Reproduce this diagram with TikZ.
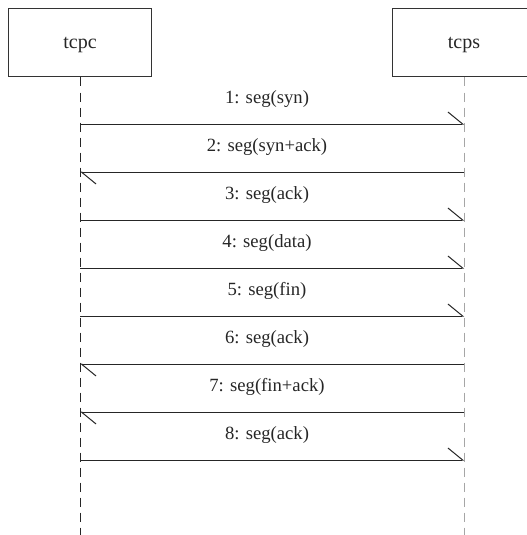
\documentclass[tikz,border=0pt]{standalone}
\usepackage{fontspec}
\setmainfont{Liberation Serif}
\usetikzlibrary{arrows.meta}

\begin{document}
\begin{tikzpicture}[x=0.75pt,y=-0.75pt,line width=0.75pt,
  every node/.style={font=\fontsize{14}{17}\selectfont,text=black!85},
  obj/.style={draw=black!80,minimum width=107pt,minimum height=51pt,inner sep=0pt,
    text depth=0pt,font=\fontsize{15}{18}\selectfont},
  life/.style={dash pattern=on 6.75pt off 4.5pt},
  msg/.style={draw=black!85,-{Straight Barb[left,length=11pt,width=18pt]}}]
  \useasboundingbox (0,0) rectangle (527,535);
  % the two objects and their lifelines
  \node[obj] (tcpc) at (80,43) {tcpc};
  \node[obj] (tcps) at (464,43) {tcps};
  \coordinate (cend) at (80,535); \coordinate (send) at (464,535);
  \draw[life,black!85] (tcpc.south) -- (cend);
  \draw[life,black!35] (tcps.south) -- (send);
  % messages, one every 48px
  \foreach \i/\lbl/\a/\b in {1/syn/c/s,2/syn+ack/s/c,3/ack/c/s,4/data/c/s,
      5/fin/c/s,6/ack/s/c,7/fin+ack/s/c,8/ack/c/s}{
    \pgfmathsetmacro{\y}{124+48*(\i-1)}
    \coordinate (c\i) at (80,\y); \coordinate (s\i) at (464,\y);
    \node[anchor=base] (m\i) at (267,\y-20.5) {\i: seg(\lbl)};
    \draw[msg] (\a\i) -- (\b\i);
  }
\end{tikzpicture}
\end{document}
